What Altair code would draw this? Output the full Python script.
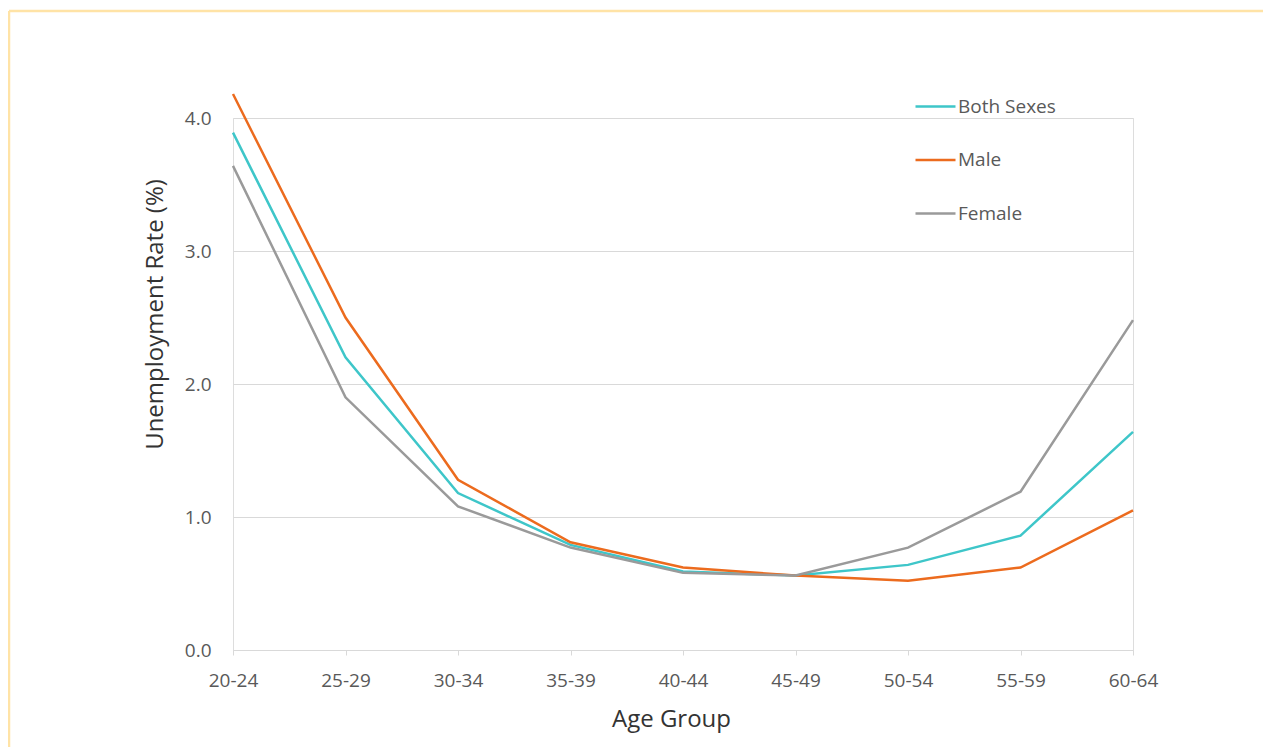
import altair as alt
import pandas as pd

age_groups = ["20-24", "25-29", "30-34", "35-39", "40-44", "45-49", "50-54", "55-59", "60-64"]
both_sexes = [3.89, 2.20, 1.18, 0.79, 0.59, 0.56, 0.64, 0.86, 1.64]
male = [4.18, 2.50, 1.28, 0.81, 0.62, 0.56, 0.52, 0.62, 1.05]
female = [3.64, 1.90, 1.08, 0.77, 0.58, 0.56, 0.77, 1.19, 2.48]
series_names = ["Both Sexes", "Male", "Female"]
series_colors = ["#3EC6C9", "#EC6B1E", "#9A9A9A"]
y_ticks = [0, 1, 2, 3, 4]

rows = []
for name, vals in zip(series_names, [both_sexes, male, female]):
    for a, v in zip(age_groups, vals):
        rows.append({"Age Group": a, "Rate": v, "Series": name})
df = pd.DataFrame(rows)

FONT = "Open Sans"
FRAME = "#FFE3A6"
one = pd.DataFrame({"k": [0]})

frame_top = alt.Chart(one).mark_rule(stroke=FRAME, strokeWidth=2.5).encode(
    x=alt.value(-224), x2=alt.value(1030), y=alt.value(-107)
)
frame_left = alt.Chart(one).mark_rule(stroke=FRAME, strokeWidth=2.5).encode(
    x=alt.value(-224), y=alt.value(-107), y2=alt.value(629)
)

lines = alt.Chart(df).mark_line(strokeWidth=2.5).encode(
    x=alt.X("Age Group:N", sort=age_groups,
            scale=alt.Scale(type="point", padding=0),
            axis=alt.Axis(title="Age Group", labelAngle=0, domainColor="#d9d9d9",
                          tickColor="#d9d9d9", tickSize=5, labelPadding=31,
                          labelBaseline="alphabetic",
                          labelColor="#595959", labelFontSize=19, labelFont=FONT,
                          titleFont=FONT, titleFontSize=24, titleFontWeight="normal",
                          titleColor="#333333", titleX=438, titleY=76,
                          titleBaseline="alphabetic", titleAlign="center")),
    y=alt.Y("Rate:Q", scale=alt.Scale(domain=[0, 4]),
            axis=alt.Axis(title="Unemployment Rate (%)", values=y_ticks, format=".1f",
                          domain=False, ticks=False, labelPadding=22,
                          gridColor="#d9d9d9", gridWidth=1,
                          labelColor="#595959", labelFontSize=19, labelFont=FONT,
                          titleFont=FONT, titleFontSize=24, titleFontWeight="normal",
                          titleColor="#333333", titleX=-71, titleY=196,
                          titleAngle=270, titleBaseline="alphabetic",
                          titleAlign="center")),
    color=alt.Color("Series:N", sort=series_names,
                    scale=alt.Scale(domain=series_names, range=series_colors),
                    legend=alt.Legend(title=None, orient="none", legendX=681, legendY=-33,
                                      symbolType="stroke", symbolSize=1600,
                                      symbolStrokeWidth=2.5, labelOffset=1,
                                      rowPadding=21.5, padding=0,
                                      labelFont=FONT, labelFontSize=19,
                                      labelColor="#595959")),
    order=alt.Order("Series:N"),
)

chart = alt.layer(frame_top, frame_left, lines).properties(
    width=900, height=532,
    autosize=alt.AutoSizeParams(type="none"),
    padding={"left": 225, "top": 110, "right": 143, "bottom": 97},
).configure_view(stroke=None).configure(background="white")

chart.save("out.html", embed_options={"renderer": "svg", "actions": False})
